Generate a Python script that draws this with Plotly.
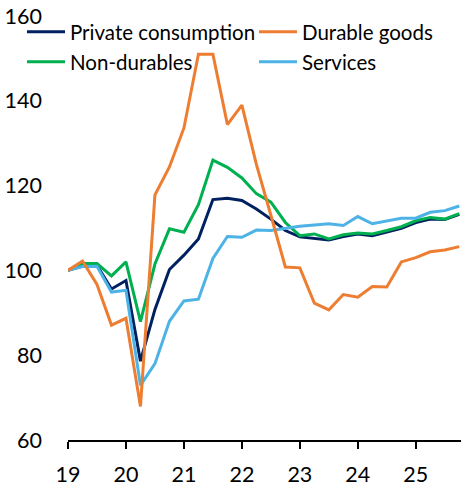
import plotly.graph_objects as go

quarters = [19.0, 19.25, 19.5, 19.75, 20.0, 20.25, 20.5, 20.75,
            21.0, 21.25, 21.5, 21.75, 22.0, 22.25, 22.5, 22.75,
            23.0, 23.25, 23.5, 23.75, 24.0, 24.25, 24.5, 24.75,
            25.0, 25.25, 25.5, 25.75]

private_consumption = [100, 101.0, 101.2, 95.6, 97.6, 78.6, 90.8, 100.2,
                       103.6, 107.4, 116.7, 117.0, 116.5, 114.5, 112.1, 109.4,
                       107.9, 107.6, 107.2, 108.0, 108.6, 108.2, 109.0, 109.9,
                       111.3, 112.1, 112.0, 113.2]
durable_goods = [100, 102.2, 96.7, 87.1, 88.7, 67.9, 117.8, 124.4,
                 133.6, 151.0, 151.0, 134.4, 139.0, 125.0, 113.0, 100.8,
                 100.6, 92.3, 90.7, 94.3, 93.7, 96.2, 96.1, 102.0,
                 103.0, 104.4, 104.8, 105.6]
non_durables = [100, 101.6, 101.6, 98.7, 102.0, 87.9, 101.5, 109.8,
                109.0, 115.5, 126.0, 124.3, 121.8, 118.1, 116.1, 111.3,
                108.2, 108.6, 107.4, 108.4, 108.8, 108.6, 109.4, 110.3,
                111.7, 112.5, 112.1, 113.4]
services = [100, 100.9, 101.0, 94.9, 95.3, 72.9, 78.0, 88.0,
            92.8, 93.2, 102.8, 108.0, 107.8, 109.5, 109.4, 109.9,
            110.4, 110.7, 111.0, 110.6, 112.7, 111.0, 111.6, 112.3,
            112.3, 113.7, 114.1, 115.2]

x_ticks = [19, 20, 21, 22, 23, 24, 25]
x_tick_labels = ["19", "20", "21", "22", "23", "24", "25"]
y_ticks = [60, 80, 100, 120, 140, 160]

FONT = "Lato"
W, H = 461, 487
ML, MR, MT, MB = 68, 0, 16, 47
PW = W - ML - MR
PH = H - MT - MB


def fx(px):
    return (px - ML) / PW


def fy(py):
    return (H - MB - py) / PH


series = [
    ("Private consumption", private_consumption, "#002060", "legend"),
    ("Non-durables", non_durables, "#00B050", "legend3"),
    ("Services", services, "#4DB3E6", "legend4"),
    ("Durable goods", durable_goods, "#ED7D31", "legend2"),
]

fig = go.Figure()
for name, vals, color, leg in series:
    fig.add_trace(go.Scatter(
        x=quarters, y=vals, name=name, mode="lines",
        line=dict(color=color, width=3), legend=leg,
    ))

leg_common = dict(
    bgcolor="rgba(0,0,0,0)", borderwidth=0, itemwidth=38,
    font=dict(family=FONT, size=20.5, color="#000000"),
    xanchor="left", yanchor="top", orientation="v",
)

fig.update_layout(
    width=W, height=H,
    margin=dict(l=ML, r=MR, t=MT, b=MB, autoexpand=False),
    paper_bgcolor="white", plot_bgcolor="white",
    font=dict(family=FONT, color="#000000"),
    showlegend=True,
    legend=dict(x=fx(22), y=fy(12), **leg_common),
    legend2=dict(x=fx(254), y=fy(12), **leg_common),
    legend3=dict(x=fx(22), y=fy(42), **leg_common),
    legend4=dict(x=fx(254), y=fy(42), **leg_common),
    xaxis=dict(
        range=[19, 25.78], tickmode="array", tickvals=x_ticks,
        ticktext=x_tick_labels, showgrid=False, zeroline=False,
        showline=True, linecolor="#000000", linewidth=2,
        ticks="outside", ticklen=7, tickwidth=2, tickcolor="#000000",
        ticklabelstandoff=7, ticklabeloverflow="allow",
        tickfont=dict(family=FONT, size=21.5, color="#000000"),
    ),
    yaxis=dict(
        range=[60, 160], tickmode="array", tickvals=y_ticks,
        showgrid=False, zeroline=False, showline=False, ticks="",
        ticklabelstandoff=25, ticklabeloverflow="allow",
        tickfont=dict(family=FONT, size=21.5, color="#000000"),
    ),
)

fig.write_html(
    "out.html",
    config={"displayModeBar": False},
    post_script="document.body.style.margin='0px';",
)
